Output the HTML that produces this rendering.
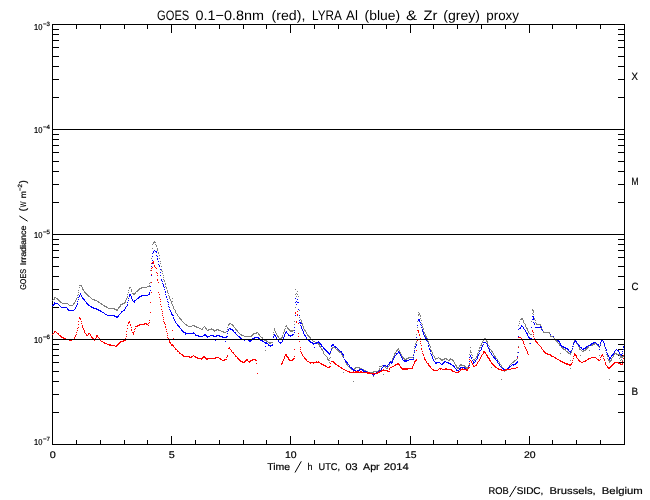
<!DOCTYPE html>
<html><head><meta charset="utf-8"><title>GOES / LYRA proxy</title>
<style>
html,body{margin:0;padding:0;background:#fff;}
body{width:650px;height:500px;position:relative;overflow:hidden;font-family:"Liberation Sans",sans-serif;color:#000;}
svg{position:absolute;left:0;top:0;will-change:transform;}
.t{position:absolute;white-space:nowrap;line-height:1;}
</style></head><body>
<svg width="650" height="500" viewBox="0 0 650 500" shape-rendering="crispEdges">
<path d="M52 24h573v1h-573zM52 444h573v1h-573zM52 24h1v421h-1zM624 24h1v421h-1zM52 97h7v1h-7zM618 97h7v1h-7zM52 79h7v1h-7zM618 79h7v1h-7zM52 66h7v1h-7zM618 66h7v1h-7zM52 56h7v1h-7zM618 56h7v1h-7zM52 47h7v1h-7zM618 47h7v1h-7zM52 40h7v1h-7zM618 40h7v1h-7zM52 34h7v1h-7zM618 34h7v1h-7zM52 29h7v1h-7zM618 29h7v1h-7zM52 202h7v1h-7zM618 202h7v1h-7zM52 184h7v1h-7zM618 184h7v1h-7zM52 171h7v1h-7zM618 171h7v1h-7zM52 161h7v1h-7zM618 161h7v1h-7zM52 152h7v1h-7zM618 152h7v1h-7zM52 145h7v1h-7zM618 145h7v1h-7zM52 139h7v1h-7zM618 139h7v1h-7zM52 134h7v1h-7zM618 134h7v1h-7zM52 307h7v1h-7zM618 307h7v1h-7zM52 289h7v1h-7zM618 289h7v1h-7zM52 276h7v1h-7zM618 276h7v1h-7zM52 266h7v1h-7zM618 266h7v1h-7zM52 257h7v1h-7zM618 257h7v1h-7zM52 250h7v1h-7zM618 250h7v1h-7zM52 244h7v1h-7zM618 244h7v1h-7zM52 239h7v1h-7zM618 239h7v1h-7zM52 412h7v1h-7zM618 412h7v1h-7zM52 394h7v1h-7zM618 394h7v1h-7zM52 381h7v1h-7zM618 381h7v1h-7zM52 371h7v1h-7zM618 371h7v1h-7zM52 362h7v1h-7zM618 362h7v1h-7zM52 355h7v1h-7zM618 355h7v1h-7zM52 349h7v1h-7zM618 349h7v1h-7zM52 344h7v1h-7zM618 344h7v1h-7zM52 24h1v9h-1zM52 436h1v9h-1zM76 24h1v5h-1zM76 440h1v5h-1zM100 24h1v5h-1zM100 440h1v5h-1zM124 24h1v5h-1zM124 440h1v5h-1zM147 24h1v5h-1zM147 440h1v5h-1zM171 24h1v9h-1zM171 436h1v9h-1zM195 24h1v5h-1zM195 440h1v5h-1zM219 24h1v5h-1zM219 440h1v5h-1zM243 24h1v5h-1zM243 440h1v5h-1zM266 24h1v5h-1zM266 440h1v5h-1zM290 24h1v9h-1zM290 436h1v9h-1zM314 24h1v5h-1zM314 440h1v5h-1zM338 24h1v5h-1zM338 440h1v5h-1zM362 24h1v5h-1zM362 440h1v5h-1zM386 24h1v5h-1zM386 440h1v5h-1zM410 24h1v9h-1zM410 436h1v9h-1zM433 24h1v5h-1zM433 440h1v5h-1zM457 24h1v5h-1zM457 440h1v5h-1zM481 24h1v5h-1zM481 440h1v5h-1zM505 24h1v5h-1zM505 440h1v5h-1zM529 24h1v9h-1zM529 436h1v9h-1zM552 24h1v5h-1zM552 440h1v5h-1zM576 24h1v5h-1zM576 440h1v5h-1zM600 24h1v5h-1zM600 440h1v5h-1zM624 24h1v5h-1zM624 440h1v5h-1z" fill="#000"/>
<path d="M154 241.5h1M153 242.5h3M153 243.5h1M152 244.5h1M155 244.5h1M156 245.5h1M156 246.5h1M152 248.5h1M157 248.5h1M157 249.5h1M157 250.5h1M158 252.5h1M152 253.5h1M158 253.5h1M159 255.5h1M151 258.5h1M159 258.5h1M160 261.5h1M151 263.5h1M160 263.5h1M161 266.5h1M161 269.5h1M150 270.5h1M161 270.5h1M162 271.5h1M162 273.5h1M163 275.5h1M163 277.5h1M163 279.5h1M164 280.5h1M164 281.5h1M150 282.5h1M149 283.5h1M165 283.5h1M165 284.5h1M79 285.5h3M149 285.5h1M81 286.5h1M147 286.5h3M165 286.5h1M79 287.5h1M82 287.5h1M129 287.5h2M141 287.5h6M166 287.5h1M82 288.5h1M129 288.5h1M139 288.5h3M166 288.5h1M82 289.5h2M131 289.5h1M138 289.5h2M295 289.5h1M78 290.5h1M83 290.5h1M128 290.5h1M131 290.5h1M137 290.5h2M167 290.5h1M84 291.5h1M131 291.5h1M136 291.5h2M167 291.5h1M297 291.5h1M78 292.5h1M84 292.5h2M128 292.5h1M135 292.5h1M167 292.5h1M85 293.5h2M132 293.5h4M168 293.5h1M296 293.5h1M78 294.5h1M86 294.5h2M127 294.5h1M133 294.5h2M295 294.5h1M297 294.5h1M77 295.5h1M87 295.5h2M168 295.5h1M88 296.5h2M127 296.5h1M169 296.5h1M296 296.5h1M298 296.5h1M54 297.5h2M77 297.5h1M90 297.5h1M127 297.5h1M169 297.5h1M54 298.5h1M56 298.5h2M76 298.5h1M91 298.5h1M126 298.5h1M169 298.5h1M172 298.5h1M53 299.5h2M57 299.5h2M76 299.5h1M92 299.5h3M126 299.5h1M170 299.5h1M52 300.5h1M58 300.5h2M75 300.5h1M94 300.5h3M125 300.5h1M170 300.5h1M59 301.5h2M75 301.5h1M97 301.5h2M125 301.5h1M171 301.5h2M60 302.5h2M74 302.5h1M98 302.5h2M124 302.5h2M171 302.5h1M62 303.5h6M73 303.5h2M100 303.5h2M122 303.5h3M171 303.5h1M68 304.5h1M73 304.5h1M101 304.5h2M120 304.5h3M172 304.5h1M69 305.5h4M103 305.5h2M120 305.5h1M172 305.5h1M104 306.5h3M119 306.5h2M173 306.5h1M106 307.5h2M118 307.5h2M173 307.5h1M295 307.5h1M108 308.5h7M118 308.5h1M173 308.5h1M114 309.5h4M174 309.5h1M532 309.5h1M116 310.5h2M175 310.5h1M299 310.5h1M532 310.5h2M175 311.5h1M533 311.5h1M175 312.5h1M418 312.5h1M533 312.5h1M176 313.5h1M419 313.5h1M532 313.5h1M177 314.5h1M418 314.5h2M533 314.5h1M177 315.5h1M418 315.5h1M420 315.5h1M178 316.5h1M420 316.5h1M533 316.5h1M179 317.5h1M299 317.5h1M179 318.5h2M420 318.5h1M521 318.5h2M534 318.5h1M180 319.5h2M300 319.5h1M520 319.5h3M534 319.5h1M181 320.5h1M301 320.5h1M421 320.5h1M523 320.5h1M535 320.5h1M182 321.5h1M294 321.5h1M301 321.5h1M417 321.5h1M519 321.5h1M523 321.5h1M531 321.5h1M183 322.5h1M301 322.5h1M523 322.5h1M535 322.5h1M184 323.5h1M229 323.5h2M301 323.5h2M421 323.5h1M519 323.5h1M524 323.5h1M536 323.5h1M185 324.5h2M228 324.5h2M231 324.5h2M294 324.5h1M302 324.5h1M422 324.5h1M525 324.5h1M536 324.5h5M186 325.5h2M192 325.5h3M228 325.5h1M232 325.5h2M286 325.5h1M302 325.5h1M518 325.5h1M525 325.5h1M540 325.5h1M188 326.5h4M194 326.5h3M204 326.5h1M233 326.5h1M285 326.5h2M303 326.5h1M422 326.5h1M525 326.5h1M541 326.5h1M196 327.5h3M203 327.5h1M205 327.5h1M227 327.5h1M234 327.5h1M287 327.5h1M294 327.5h1M303 327.5h1M417 327.5h1M422 327.5h1M526 327.5h1M541 327.5h1M199 328.5h2M202 328.5h1M205 328.5h2M211 328.5h1M235 328.5h1M274 328.5h1M285 328.5h1M287 328.5h2M303 328.5h1M423 328.5h1M526 328.5h2M541 328.5h1M201 329.5h2M206 329.5h1M208 329.5h6M216 329.5h3M227 329.5h1M235 329.5h2M274 329.5h1M284 329.5h1M288 329.5h2M304 329.5h1M423 329.5h1M527 329.5h1M542 329.5h1M207 330.5h2M213 330.5h4M218 330.5h3M236 330.5h2M274 330.5h1M284 330.5h1M289 330.5h5M304 330.5h2M527 330.5h1M214 331.5h1M221 331.5h3M226 331.5h2M237 331.5h1M275 331.5h1M284 331.5h1M290 331.5h3M305 331.5h1M423 331.5h1M528 331.5h1M543 331.5h1M223 332.5h3M238 332.5h1M256 332.5h2M273 332.5h1M275 332.5h1M283 332.5h1M306 332.5h1M424 332.5h1M528 332.5h1M543 332.5h7M239 333.5h1M253 333.5h4M258 333.5h1M276 333.5h1M283 333.5h1M306 333.5h1M424 333.5h1M529 333.5h1M549 333.5h1M240 334.5h2M252 334.5h2M258 334.5h2M273 334.5h1M276 334.5h1M307 334.5h1M416 334.5h1M425 334.5h1M530 334.5h2M241 335.5h3M251 335.5h2M259 335.5h1M277 335.5h1M282 335.5h1M307 335.5h2M425 335.5h1M550 335.5h1M244 336.5h8M260 336.5h1M277 336.5h2M282 336.5h1M308 336.5h2M425 336.5h2M518 336.5h1M550 336.5h3M261 337.5h2M278 337.5h1M281 337.5h2M309 337.5h2M426 337.5h1M553 337.5h1M262 338.5h1M279 338.5h3M310 338.5h1M427 338.5h1M484 338.5h2M554 338.5h1M263 339.5h2M280 339.5h1M311 339.5h1M427 339.5h1M483 339.5h1M485 339.5h1M554 339.5h1M575 339.5h1M264 340.5h3M312 340.5h1M427 340.5h1M483 340.5h1M486 340.5h1M555 340.5h2M574 340.5h2M601 340.5h2M266 341.5h2M313 341.5h2M416 341.5h1M428 341.5h1M482 341.5h1M486 341.5h2M556 341.5h2M574 341.5h1M576 341.5h1M601 341.5h1M603 341.5h1M268 342.5h5M315 342.5h3M416 342.5h1M428 342.5h1M482 342.5h1M487 342.5h1M557 342.5h1M573 342.5h1M576 342.5h1M600 342.5h1M603 342.5h1M269 343.5h2M317 343.5h2M415 343.5h1M481 343.5h1M487 343.5h1M529 343.5h1M558 343.5h2M576 343.5h2M594 343.5h3M604 343.5h1M318 344.5h2M415 344.5h1M429 344.5h1M481 344.5h1M559 344.5h1M573 344.5h1M577 344.5h1M592 344.5h3M596 344.5h2M600 344.5h1M604 344.5h1M319 345.5h1M429 345.5h1M480 345.5h2M488 345.5h1M559 345.5h2M578 345.5h1M589 345.5h4M597 345.5h2M600 345.5h1M319 346.5h2M414 346.5h1M430 346.5h1M489 346.5h1M518 346.5h1M561 346.5h1M573 346.5h1M578 346.5h1M588 346.5h1M598 346.5h2M604 346.5h1M320 347.5h1M332 347.5h4M430 347.5h1M470 347.5h1M479 347.5h2M561 347.5h2M579 347.5h1M587 347.5h2M599 347.5h1M321 348.5h1M331 348.5h2M335 348.5h1M398 348.5h1M414 348.5h1M479 348.5h1M489 348.5h1M562 348.5h2M572 348.5h1M579 348.5h1M586 348.5h2M605 348.5h1M321 349.5h2M331 349.5h1M336 349.5h2M397 349.5h2M430 349.5h1M490 349.5h1M563 349.5h3M572 349.5h1M579 349.5h2M585 349.5h2M265 350.5h1M322 350.5h1M331 350.5h1M337 350.5h2M396 350.5h2M399 350.5h1M431 350.5h1M470 350.5h1M478 350.5h2M491 350.5h1M565 350.5h1M581 350.5h1M583 350.5h3M589 350.5h1M605 350.5h1M323 351.5h1M338 351.5h2M396 351.5h1M399 351.5h1M414 351.5h1M431 351.5h1M470 351.5h1M491 351.5h2M566 351.5h2M571 351.5h1M582 351.5h2M323 352.5h1M339 352.5h2M395 352.5h1M399 352.5h2M432 352.5h1M470 352.5h2M478 352.5h1M492 352.5h1M517 352.5h1M567 352.5h2M571 352.5h1M606 352.5h1M323 353.5h1M330 353.5h1M341 353.5h1M394 353.5h2M400 353.5h1M432 353.5h1M477 353.5h1M493 353.5h1M560 353.5h1M568 353.5h3M614 353.5h3M324 354.5h1M341 354.5h1M394 354.5h1M401 354.5h1M413 354.5h1M432 354.5h1M469 354.5h1M471 354.5h1M477 354.5h1M493 354.5h1M570 354.5h1M606 354.5h1M613 354.5h2M616 354.5h4M325 355.5h1M342 355.5h1M394 355.5h1M401 355.5h1M433 355.5h1M472 355.5h1M477 355.5h1M494 355.5h1M580 355.5h1M599 355.5h1M607 355.5h1M613 355.5h1M619 355.5h2M326 356.5h1M342 356.5h2M393 356.5h1M402 356.5h1M434 356.5h1M476 356.5h1M494 356.5h2M607 356.5h1M613 356.5h1M620 356.5h4M327 357.5h1M330 357.5h1M343 357.5h1M393 357.5h1M402 357.5h2M408 357.5h5M434 357.5h1M438 357.5h1M472 357.5h1M476 357.5h1M495 357.5h1M517 357.5h1M612 357.5h1M620 357.5h3M327 358.5h1M329 358.5h1M392 358.5h1M403 358.5h2M406 358.5h3M413 358.5h1M435 358.5h3M439 358.5h2M444 358.5h3M450 358.5h1M475 358.5h1M496 358.5h1M517 358.5h1M607 358.5h1M611 358.5h1M619 358.5h1M623 358.5h1M327 359.5h2M344 359.5h1M392 359.5h1M404 359.5h3M435 359.5h1M440 359.5h5M446 359.5h2M449 359.5h4M469 359.5h1M473 359.5h2M497 359.5h1M516 359.5h1M608 359.5h1M611 359.5h1M621 359.5h1M328 360.5h2M345 360.5h1M392 360.5h1M441 360.5h2M448 360.5h2M452 360.5h2M474 360.5h1M497 360.5h1M514 360.5h2M570 360.5h1M608 360.5h4M620 360.5h1M622 360.5h1M345 361.5h1M390 361.5h2M453 361.5h1M498 361.5h1M513 361.5h2M609 361.5h2M622 361.5h1M329 362.5h1M345 362.5h1M454 362.5h1M499 362.5h1M512 362.5h2M609 362.5h1M346 363.5h1M389 363.5h1M454 363.5h1M499 363.5h1M511 363.5h1M346 364.5h2M389 364.5h1M455 364.5h1M460 364.5h2M469 364.5h1M500 364.5h1M510 364.5h1M347 365.5h1M382 365.5h3M389 365.5h1M455 365.5h2M459 365.5h6M468 365.5h1M501 365.5h1M509 365.5h1M348 366.5h1M379 366.5h3M384 366.5h2M388 366.5h1M456 366.5h1M459 366.5h1M464 366.5h2M468 366.5h1M501 366.5h1M509 366.5h1M349 367.5h1M355 367.5h5M385 367.5h1M387 367.5h1M456 367.5h3M465 367.5h3M491 367.5h1M502 367.5h1M508 367.5h1M350 368.5h1M354 368.5h2M359 368.5h3M379 368.5h1M386 368.5h2M457 368.5h2M466 368.5h2M503 368.5h1M507 368.5h1M570 368.5h1M351 369.5h4M361 369.5h3M379 369.5h1M503 369.5h1M507 369.5h1M363 370.5h3M378 370.5h1M503 370.5h4M365 371.5h3M373 371.5h6M504 371.5h1M343 372.5h1M367 372.5h7M371 373.5h1M383 374.5h1M373 376.5h1M501 379.5h1M609 379.5h1M353 381.5h1" stroke="#7f7f7f" stroke-width="1" fill="none"/>
<path d="M154 250.5h1M153 251.5h1M155 251.5h2M153 252.5h1M156 252.5h1M152 253.5h1M156 255.5h1M152 256.5h1M157 256.5h1M157 258.5h1M157 259.5h1M152 260.5h1M158 261.5h1M152 263.5h1M158 264.5h1M159 265.5h1M151 266.5h1M159 266.5h1M160 269.5h1M160 272.5h1M151 275.5h1M160 275.5h1M161 279.5h1M161 280.5h1M162 281.5h1M151 282.5h1M162 283.5h1M163 284.5h1M163 285.5h1M150 286.5h1M163 286.5h1M164 287.5h1M164 289.5h1M150 290.5h1M165 291.5h1M149 292.5h1M165 292.5h1M80 293.5h1M149 293.5h1M80 294.5h1M129 294.5h2M148 294.5h2M165 294.5h1M79 295.5h1M81 295.5h1M129 295.5h2M141 295.5h7M79 296.5h1M81 296.5h1M129 296.5h1M131 296.5h1M139 296.5h3M166 296.5h1M78 297.5h1M82 297.5h1M131 297.5h1M138 297.5h2M166 297.5h1M82 298.5h2M128 298.5h1M131 298.5h1M137 298.5h2M295 298.5h1M78 299.5h1M83 299.5h2M132 299.5h1M136 299.5h1M167 299.5h1M297 299.5h1M84 300.5h1M128 300.5h1M132 300.5h1M134 300.5h2M77 301.5h1M85 301.5h1M133 301.5h2M167 301.5h1M296 301.5h1M54 302.5h1M86 302.5h1M127 302.5h1M134 302.5h1M168 302.5h1M295 302.5h1M297 302.5h2M54 303.5h4M77 303.5h1M86 303.5h2M53 304.5h2M58 304.5h1M77 304.5h1M87 304.5h2M127 304.5h1M168 304.5h1M296 304.5h1M52 305.5h2M59 305.5h1M76 305.5h1M88 305.5h2M127 305.5h1M60 306.5h1M76 306.5h1M90 306.5h2M126 306.5h1M168 306.5h1M61 307.5h6M75 307.5h1M91 307.5h3M125 307.5h1M169 307.5h1M67 308.5h1M75 308.5h1M93 308.5h4M125 308.5h1M67 309.5h2M74 309.5h1M96 309.5h3M124 309.5h1M169 309.5h1M298 309.5h1M68 310.5h6M98 310.5h3M123 310.5h2M170 310.5h1M100 311.5h2M121 311.5h2M170 311.5h1M102 312.5h2M121 312.5h1M171 312.5h1M104 313.5h1M120 313.5h1M171 313.5h1M105 314.5h2M119 314.5h1M171 314.5h2M107 315.5h8M118 315.5h1M172 315.5h2M295 315.5h1M299 315.5h1M114 316.5h5M532 316.5h2M116 317.5h2M173 317.5h1M533 317.5h1M173 318.5h1M533 318.5h1M174 319.5h1M418 319.5h2M532 319.5h2M174 320.5h1M299 320.5h1M418 320.5h2M175 321.5h1M419 321.5h1M175 322.5h1M299 322.5h2M420 322.5h1M533 322.5h1M176 323.5h1M300 323.5h2M534 323.5h1M177 324.5h1M420 324.5h1M534 324.5h1M177 325.5h2M300 325.5h1M417 325.5h1M421 325.5h1M521 325.5h1M178 326.5h2M301 326.5h1M521 326.5h2M540 326.5h1M179 327.5h1M294 327.5h1M301 327.5h1M421 327.5h1M520 327.5h1M523 327.5h1M531 327.5h1M535 327.5h7M180 328.5h1M229 328.5h2M301 328.5h1M519 328.5h2M523 328.5h1M181 329.5h1M228 329.5h1M230 329.5h3M302 329.5h1M422 329.5h1M518 329.5h1M524 329.5h1M541 329.5h1M181 330.5h2M228 330.5h1M232 330.5h2M294 330.5h1M302 330.5h1M417 330.5h1M422 330.5h1M525 330.5h1M542 330.5h1M182 331.5h2M227 331.5h1M233 331.5h1M286 331.5h1M303 331.5h1M422 331.5h1M525 331.5h1M183 332.5h3M193 332.5h1M234 332.5h2M285 332.5h2M294 332.5h1M303 332.5h1M423 332.5h1M526 332.5h1M185 333.5h10M227 333.5h1M235 333.5h1M285 333.5h1M287 333.5h1M303 333.5h1M423 333.5h1M526 333.5h2M185 334.5h1M195 334.5h1M204 334.5h2M236 334.5h1M274 334.5h1M284 334.5h1M288 334.5h1M292 334.5h2M304 334.5h1M423 334.5h1M527 334.5h1M550 334.5h1M195 335.5h4M203 335.5h4M210 335.5h4M216 335.5h4M237 335.5h1M274 335.5h2M284 335.5h1M288 335.5h5M304 335.5h2M424 335.5h1M527 335.5h1M198 336.5h5M206 336.5h4M213 336.5h4M219 336.5h4M226 336.5h2M238 336.5h2M273 336.5h1M275 336.5h1M284 336.5h1M290 336.5h1M305 336.5h1M424 336.5h1M518 336.5h1M528 336.5h1M553 336.5h1M207 337.5h1M222 337.5h5M239 337.5h2M254 337.5h5M273 337.5h1M276 337.5h1M283 337.5h1M306 337.5h1M416 337.5h1M425 337.5h1M528 337.5h2M240 338.5h2M252 338.5h3M258 338.5h2M276 338.5h1M283 338.5h1M306 338.5h1M425 338.5h2M529 338.5h3M241 339.5h7M251 339.5h2M259 339.5h2M277 339.5h1M307 339.5h2M426 339.5h1M557 339.5h1M602 339.5h1M215 340.5h1M244 340.5h1M248 340.5h4M260 340.5h3M278 340.5h1M282 340.5h1M308 340.5h2M426 340.5h1M557 340.5h2M575 340.5h1M601 340.5h2M225 341.5h1M249 341.5h2M262 341.5h2M278 341.5h1M282 341.5h1M309 341.5h2M318 341.5h1M427 341.5h1M558 341.5h2M574 341.5h3M601 341.5h1M603 341.5h1M264 342.5h3M279 342.5h3M310 342.5h3M316 342.5h4M483 342.5h3M559 342.5h1M574 342.5h1M576 342.5h1M593 342.5h3M600 342.5h1M603 342.5h1M265 343.5h3M280 343.5h1M312 343.5h5M319 343.5h2M428 343.5h1M486 343.5h1M530 343.5h1M560 343.5h1M573 343.5h1M577 343.5h1M591 343.5h3M596 343.5h1M600 343.5h1M604 343.5h1M268 344.5h1M272 344.5h1M313 344.5h1M320 344.5h2M332 344.5h2M416 344.5h1M483 344.5h1M487 344.5h1M560 344.5h1M573 344.5h1M578 344.5h1M590 344.5h2M597 344.5h2M604 344.5h1M268 345.5h5M321 345.5h1M331 345.5h3M416 345.5h1M428 345.5h1M482 345.5h1M487 345.5h1M560 345.5h2M578 345.5h2M588 345.5h3M598 345.5h1M600 345.5h1M604 345.5h1M265 346.5h1M270 346.5h1M321 346.5h2M331 346.5h1M334 346.5h2M415 346.5h1M428 346.5h1M482 346.5h1M487 346.5h1M561 346.5h3M572 346.5h1M579 346.5h1M586 346.5h2M599 346.5h1M623 346.5h1M314 347.5h1M323 347.5h1M335 347.5h2M415 347.5h1M481 347.5h1M488 347.5h1M563 347.5h3M580 347.5h2M585 347.5h2M605 347.5h1M623 347.5h1M323 348.5h2M337 348.5h1M429 348.5h1M481 348.5h1M488 348.5h1M565 348.5h3M572 348.5h1M581 348.5h1M583 348.5h3M605 348.5h1M324 349.5h2M331 349.5h1M338 349.5h1M429 349.5h1M481 349.5h1M489 349.5h1M567 349.5h2M582 349.5h2M599 349.5h1M606 349.5h1M616 349.5h1M623 349.5h1M325 350.5h2M339 350.5h1M414 350.5h1M430 350.5h1M480 350.5h1M489 350.5h1M568 350.5h1M571 350.5h1M606 350.5h1M615 350.5h1M617 350.5h2M326 351.5h2M330 351.5h1M340 351.5h2M398 351.5h1M430 351.5h1M479 351.5h1M489 351.5h1M569 351.5h2M614 351.5h1M618 351.5h1M622 351.5h1M327 352.5h2M330 352.5h1M341 352.5h1M398 352.5h2M414 352.5h1M490 352.5h1M518 352.5h1M570 352.5h1M606 352.5h1M614 352.5h1M619 352.5h1M328 353.5h2M342 353.5h1M396 353.5h2M399 353.5h1M430 353.5h1M479 353.5h1M491 353.5h1M607 353.5h1M613 353.5h1M619 353.5h1M622 353.5h1M329 354.5h1M342 354.5h2M396 354.5h1M400 354.5h1M431 354.5h1M478 354.5h1M491 354.5h1M607 354.5h1M612 354.5h2M620 354.5h2M343 355.5h1M395 355.5h1M400 355.5h1M413 355.5h1M431 355.5h1M470 355.5h1M478 355.5h1M492 355.5h1M608 355.5h1M611 355.5h2M621 355.5h1M394 356.5h1M401 356.5h1M432 356.5h1M470 356.5h1M477 356.5h1M493 356.5h1M517 356.5h1M608 356.5h1M611 356.5h1M343 357.5h1M394 357.5h1M401 357.5h1M413 357.5h1M432 357.5h1M469 357.5h1M471 357.5h1M477 357.5h1M493 357.5h2M609 357.5h2M393 358.5h1M402 358.5h1M432 358.5h1M471 358.5h1M477 358.5h1M494 358.5h2M609 358.5h2M344 359.5h1M393 359.5h1M402 359.5h1M409 359.5h5M433 359.5h1M476 359.5h1M495 359.5h1M609 359.5h1M345 360.5h1M392 360.5h1M403 360.5h6M433 360.5h1M472 360.5h1M475 360.5h1M496 360.5h2M345 361.5h2M390 361.5h1M392 361.5h1M404 361.5h3M434 361.5h1M444 361.5h2M469 361.5h1M473 361.5h1M475 361.5h1M497 361.5h1M517 361.5h1M346 362.5h2M389 362.5h4M435 362.5h5M443 362.5h2M446 362.5h3M473 362.5h2M497 362.5h1M516 362.5h2M347 363.5h1M389 363.5h1M391 363.5h1M435 363.5h2M440 363.5h1M442 363.5h2M448 363.5h3M473 363.5h1M498 363.5h1M515 363.5h2M348 364.5h1M388 364.5h1M441 364.5h2M450 364.5h2M499 364.5h1M512 364.5h4M349 365.5h1M383 365.5h3M387 365.5h1M452 365.5h2M469 365.5h1M499 365.5h1M511 365.5h1M513 365.5h1M349 366.5h1M383 366.5h1M386 366.5h2M453 366.5h2M468 366.5h1M500 366.5h1M509 366.5h2M350 367.5h2M382 367.5h1M454 367.5h1M460 367.5h5M468 367.5h1M501 367.5h1M508 367.5h2M351 368.5h2M381 368.5h1M455 368.5h1M459 368.5h2M464 368.5h2M502 368.5h2M507 368.5h2M352 369.5h2M359 369.5h4M381 369.5h1M456 369.5h1M459 369.5h1M466 369.5h2M503 369.5h4M353 370.5h3M357 370.5h3M362 370.5h2M379 370.5h2M456 370.5h3M467 370.5h1M355 371.5h3M363 371.5h4M378 371.5h1M367 372.5h3M376 372.5h2M370 373.5h2M374 373.5h2M372 374.5h3M373 375.5h1" stroke="#0000ff" stroke-width="1" fill="none"/>
<path d="M153 261.5h1M152 262.5h2M151 263.5h1M153 263.5h1M154 265.5h1M154 266.5h1M152 267.5h1M155 267.5h1M151 268.5h1M156 268.5h1M151 270.5h1M156 272.5h1M157 273.5h1M151 274.5h1M157 275.5h1M157 279.5h1M157 280.5h1M151 282.5h1M158 282.5h1M151 292.5h1M158 292.5h1M159 294.5h1M159 297.5h1M160 299.5h1M160 301.5h1M150 302.5h1M160 304.5h1M161 306.5h1M161 309.5h1M162 311.5h1M297 311.5h1M150 312.5h1M295 312.5h1M162 313.5h1M295 313.5h1M297 314.5h1M162 315.5h1M297 315.5h1M79 317.5h1M163 317.5h1M79 318.5h2M80 319.5h1M163 319.5h1M149 320.5h1M78 321.5h1M81 321.5h1M129 321.5h1M163 321.5h1M296 321.5h1M128 322.5h2M149 322.5h1M164 322.5h1M296 322.5h1M81 323.5h1M128 323.5h1M144 323.5h3M148 323.5h1M164 323.5h1M298 323.5h1M78 324.5h1M130 324.5h1M139 324.5h6M146 324.5h2M165 324.5h1M82 325.5h1M127 325.5h1M130 325.5h1M137 325.5h3M148 325.5h1M82 326.5h1M135 326.5h3M165 326.5h1M78 327.5h1M82 327.5h1M131 327.5h1M165 327.5h1M77 328.5h1M83 328.5h1M127 328.5h1M135 328.5h1M83 329.5h1M131 329.5h1M134 329.5h1M166 329.5h1M77 330.5h1M84 330.5h1M131 330.5h1M172 330.5h1M417 330.5h2M532 330.5h1M54 331.5h2M84 331.5h1M126 331.5h1M134 331.5h1M166 331.5h1M418 331.5h1M532 331.5h1M54 332.5h1M56 332.5h1M76 332.5h1M84 332.5h1M132 332.5h2M418 332.5h1M533 332.5h1M53 333.5h1M57 333.5h2M85 333.5h1M88 333.5h2M133 333.5h1M167 333.5h1M298 333.5h1M52 334.5h1M58 334.5h1M76 334.5h1M86 334.5h1M88 334.5h1M90 334.5h1M126 334.5h1M133 334.5h1M419 334.5h1M533 334.5h1M59 335.5h2M75 335.5h1M86 335.5h2M90 335.5h1M96 335.5h2M167 335.5h1M419 335.5h1M60 336.5h2M75 336.5h1M91 336.5h1M96 336.5h2M126 336.5h1M298 336.5h1M533 336.5h1M61 337.5h3M74 337.5h1M91 337.5h2M96 337.5h1M98 337.5h1M167 337.5h1M518 337.5h3M63 338.5h3M74 338.5h1M92 338.5h2M95 338.5h1M99 338.5h1M125 338.5h1M168 338.5h1M173 338.5h1M420 338.5h1M521 338.5h1M534 338.5h1M66 339.5h3M72 339.5h2M94 339.5h2M100 339.5h1M168 339.5h1M299 339.5h1M522 339.5h1M534 339.5h1M69 340.5h3M94 340.5h1M100 340.5h1M123 340.5h3M169 340.5h1M417 340.5h1M522 340.5h1M535 340.5h1M101 341.5h2M120 341.5h4M169 341.5h1M299 341.5h1M420 341.5h1M523 341.5h1M535 341.5h2M103 342.5h2M119 342.5h2M169 342.5h2M523 342.5h1M536 342.5h2M104 343.5h3M118 343.5h2M170 343.5h1M420 343.5h1M523 343.5h1M537 343.5h1M107 344.5h4M117 344.5h2M171 344.5h2M524 344.5h1M538 344.5h1M109 345.5h6M116 345.5h2M171 345.5h3M421 345.5h1M539 345.5h1M115 346.5h2M173 346.5h1M524 346.5h1M540 346.5h1M174 347.5h1M229 347.5h1M300 347.5h1M518 347.5h1M525 347.5h1M541 347.5h1M175 348.5h1M228 348.5h2M421 348.5h1M525 348.5h1M541 348.5h1M175 349.5h2M230 349.5h1M294 349.5h1M300 349.5h1M421 349.5h1M526 349.5h1M542 349.5h1M177 350.5h1M231 350.5h1M416 350.5h1M526 350.5h1M543 350.5h1M177 351.5h2M231 351.5h1M300 351.5h1M422 351.5h1M483 351.5h2M527 351.5h1M543 351.5h2M179 352.5h1M232 352.5h2M301 352.5h1M483 352.5h3M527 352.5h1M544 352.5h2M179 353.5h2M233 353.5h1M301 353.5h1M422 353.5h1M483 353.5h1M485 353.5h1M527 353.5h1M545 353.5h3M574 353.5h1M181 354.5h2M234 354.5h1M285 354.5h2M302 354.5h1M423 354.5h1M482 354.5h1M486 354.5h1M528 354.5h1M547 354.5h4M574 354.5h2M602 354.5h1M182 355.5h2M193 355.5h1M227 355.5h1M235 355.5h1M285 355.5h2M302 355.5h1M423 355.5h1M481 355.5h1M486 355.5h2M550 355.5h2M574 355.5h3M601 355.5h2M623 355.5h1M183 356.5h7M191 356.5h2M194 356.5h2M203 356.5h2M227 356.5h1M235 356.5h2M284 356.5h1M286 356.5h2M294 356.5h1M303 356.5h1M481 356.5h1M487 356.5h1M551 356.5h3M573 356.5h1M576 356.5h1M601 356.5h1M603 356.5h1M189 357.5h3M195 357.5h3M202 357.5h4M215 357.5h4M226 357.5h1M237 357.5h1M284 357.5h1M287 357.5h2M304 357.5h1M424 357.5h1M480 357.5h1M487 357.5h2M517 357.5h1M554 357.5h2M576 357.5h1M591 357.5h5M600 357.5h1M197 358.5h6M205 358.5h11M219 358.5h2M237 358.5h2M284 358.5h1M288 358.5h1M293 358.5h2M304 358.5h2M424 358.5h1M480 358.5h1M488 358.5h2M555 358.5h2M573 358.5h1M577 358.5h1M588 358.5h3M596 358.5h1M603 358.5h1M623 358.5h1M201 359.5h1M206 359.5h2M220 359.5h2M224 359.5h3M238 359.5h2M246 359.5h2M252 359.5h4M283 359.5h1M288 359.5h2M292 359.5h2M305 359.5h2M416 359.5h1M424 359.5h2M469 359.5h1M479 359.5h1M489 359.5h1M557 359.5h2M578 359.5h1M587 359.5h2M597 359.5h2M600 359.5h1M604 359.5h1M222 360.5h3M239 360.5h2M245 360.5h3M250 360.5h3M255 360.5h2M283 360.5h1M289 360.5h4M306 360.5h1M415 360.5h2M425 360.5h1M470 360.5h1M479 360.5h1M489 360.5h2M559 360.5h2M572 360.5h1M578 360.5h2M585 360.5h2M598 360.5h2M604 360.5h1M240 361.5h3M244 361.5h2M248 361.5h3M282 361.5h1M307 361.5h2M316 361.5h1M318 361.5h1M331 361.5h3M414 361.5h2M426 361.5h1M471 361.5h1M478 361.5h1M490 361.5h1M560 361.5h3M579 361.5h2M583 361.5h3M622 361.5h1M242 362.5h3M249 362.5h1M282 362.5h1M309 362.5h11M333 362.5h2M414 362.5h1M426 362.5h1M471 362.5h1M477 362.5h1M491 362.5h1M562 362.5h3M572 362.5h1M581 362.5h2M605 362.5h1M614 362.5h5M256 363.5h1M281 363.5h2M310 363.5h1M313 363.5h1M320 363.5h2M330 363.5h1M334 363.5h2M397 363.5h2M414 363.5h1M427 363.5h2M469 363.5h1M472 363.5h1M477 363.5h1M491 363.5h2M564 363.5h4M571 363.5h1M605 363.5h1M613 363.5h2M618 363.5h3M622 363.5h1M281 364.5h1M321 364.5h3M335 364.5h2M395 364.5h5M413 364.5h1M428 364.5h1M472 364.5h1M476 364.5h1M492 364.5h2M566 364.5h6M605 364.5h1M612 364.5h2M620 364.5h3M323 365.5h3M337 365.5h2M394 365.5h2M399 365.5h1M413 365.5h1M428 365.5h2M473 365.5h1M475 365.5h2M493 365.5h2M569 365.5h2M606 365.5h1M611 365.5h2M325 366.5h2M329 366.5h2M338 366.5h2M392 366.5h2M400 366.5h1M412 366.5h1M429 366.5h2M473 366.5h2M494 366.5h2M607 366.5h1M610 366.5h2M327 367.5h3M340 367.5h2M390 367.5h2M400 367.5h2M412 367.5h1M430 367.5h1M468 367.5h2M495 367.5h2M516 367.5h2M607 367.5h4M341 368.5h2M389 368.5h1M401 368.5h12M431 368.5h1M439 368.5h3M445 368.5h2M462 368.5h1M468 368.5h1M497 368.5h2M511 368.5h5M608 368.5h2M343 369.5h2M383 369.5h1M389 369.5h1M402 369.5h6M432 369.5h2M438 369.5h1M440 369.5h1M442 369.5h10M460 369.5h8M498 369.5h4M505 369.5h6M345 370.5h2M381 370.5h7M433 370.5h5M451 370.5h2M460 370.5h1M466 370.5h2M501 370.5h5M347 371.5h3M353 371.5h1M355 371.5h4M360 371.5h2M379 371.5h3M387 371.5h3M452 371.5h3M458 371.5h2M349 372.5h21M377 372.5h3M455 372.5h4M257 373.5h1M367 373.5h11M373 374.5h1" stroke="#ff0000" stroke-width="1" fill="none"/>
<path d="M52 129h573v1h-573zM52 234h573v1h-573zM52 339h573v1h-573z" fill="#000"/>
<g font-family="Liberation Sans, sans-serif" fill="#000" stroke="#000" stroke-width="0.2" text-rendering="geometricPrecision"><text x="157.1" y="20.0" font-size="13.7" text-anchor="start" textLength="32.2" lengthAdjust="spacingAndGlyphs" stroke="none">GOES</text>
<text x="195.5" y="20.0" font-size="13.7" text-anchor="start" textLength="68.5" lengthAdjust="spacingAndGlyphs" stroke="none">0.1&#8722;0.8nm</text>
<text x="271.5" y="20.0" font-size="13.7" text-anchor="start" textLength="33.9" lengthAdjust="spacingAndGlyphs" stroke="none">(red),</text>
<text x="312.0" y="20.0" font-size="13.7" text-anchor="start" textLength="29.8" lengthAdjust="spacingAndGlyphs" stroke="none">LYRA</text>
<text x="346.1" y="20.0" font-size="13.7" text-anchor="start" textLength="11.8" lengthAdjust="spacingAndGlyphs" stroke="none">Al</text>
<text x="364.5" y="20.0" font-size="13.7" text-anchor="start" textLength="35.6" lengthAdjust="spacingAndGlyphs" stroke="none">(blue)</text>
<text x="406.0" y="20.0" font-size="13.7" text-anchor="start" textLength="11.0" lengthAdjust="spacingAndGlyphs" stroke="none">&amp;</text>
<text x="423.6" y="20.0" font-size="13.7" text-anchor="start" textLength="13.9" lengthAdjust="spacingAndGlyphs" stroke="none">Zr</text>
<text x="443.2" y="20.0" font-size="13.7" text-anchor="start" textLength="36.9" lengthAdjust="spacingAndGlyphs" stroke="none">(grey)</text>
<text x="486.3" y="20.0" font-size="13.7" text-anchor="start" textLength="32.7" lengthAdjust="spacingAndGlyphs" stroke="none">proxy</text>
<text x="52.8" y="457.9" font-size="9.7" text-anchor="middle" textLength="6" lengthAdjust="spacingAndGlyphs">0</text>
<text x="171.8" y="457.9" font-size="9.7" text-anchor="middle" textLength="6" lengthAdjust="spacingAndGlyphs">5</text>
<text x="290.8" y="457.9" font-size="9.7" text-anchor="middle" textLength="11.6" lengthAdjust="spacingAndGlyphs">10</text>
<text x="410.8" y="457.9" font-size="9.7" text-anchor="middle" textLength="11.6" lengthAdjust="spacingAndGlyphs">15</text>
<text x="529.8" y="457.9" font-size="9.7" text-anchor="middle" textLength="11.6" lengthAdjust="spacingAndGlyphs">20</text>
<text x="267.2" y="470.1" font-size="9.8" text-anchor="start" textLength="23.0" lengthAdjust="spacingAndGlyphs">Time</text>
<text x="307.4" y="470.1" font-size="9.8" text-anchor="start" textLength="5.0" lengthAdjust="spacingAndGlyphs">h</text>
<text x="318.5" y="470.1" font-size="9.8" text-anchor="start" textLength="21.5" lengthAdjust="spacingAndGlyphs">UTC,</text>
<text x="345.4" y="470.1" font-size="9.8" text-anchor="start" textLength="12.2" lengthAdjust="spacingAndGlyphs">03</text>
<text x="363.0" y="470.1" font-size="9.8" text-anchor="start" textLength="16.7" lengthAdjust="spacingAndGlyphs">Apr</text>
<text x="383.8" y="470.1" font-size="9.8" text-anchor="start" textLength="25.0" lengthAdjust="spacingAndGlyphs">2014</text>
<line x1="295" y1="472.5" x2="301.3" y2="461.3" stroke="#000" stroke-width="1" shape-rendering="auto"/>
<text x="488.6" y="494.1" font-size="9.8" text-anchor="start" textLength="20.2" lengthAdjust="spacingAndGlyphs">ROB</text>
<text x="516.7" y="494.1" font-size="9.8" text-anchor="start" textLength="26.7" lengthAdjust="spacingAndGlyphs">SIDC,</text>
<text x="549.6" y="494.1" font-size="9.8" text-anchor="start" textLength="46.1" lengthAdjust="spacingAndGlyphs">Brussels,</text>
<text x="601.8" y="494.1" font-size="9.8" text-anchor="start" textLength="41.0" lengthAdjust="spacingAndGlyphs">Belgium</text>
<line x1="509.5" y1="497" x2="516.2" y2="486" stroke="#000" stroke-width="1" shape-rendering="auto"/>
<text x="631.6" y="79.8" font-size="10.5" text-anchor="start" textLength="6.4" lengthAdjust="spacingAndGlyphs">X</text>
<text x="631.6" y="184.8" font-size="10.5" text-anchor="start" textLength="7" lengthAdjust="spacingAndGlyphs">M</text>
<text x="631.6" y="289.8" font-size="10.5" text-anchor="start" textLength="7" lengthAdjust="spacingAndGlyphs">C</text>
<text x="631.6" y="394.8" font-size="10.5" text-anchor="start" textLength="6.6" lengthAdjust="spacingAndGlyphs">B</text>
<text x="34" y="30.0" font-size="8.6" textLength="8.4" lengthAdjust="spacingAndGlyphs">10</text>
<text x="43" y="26.0" font-size="6.2" textLength="7" lengthAdjust="spacingAndGlyphs">&#8722;3</text>
<text x="34" y="132.9" font-size="8.6" textLength="8.4" lengthAdjust="spacingAndGlyphs">10</text>
<text x="43" y="128.9" font-size="6.2" textLength="7" lengthAdjust="spacingAndGlyphs">&#8722;4</text>
<text x="34" y="237.9" font-size="8.6" textLength="8.4" lengthAdjust="spacingAndGlyphs">10</text>
<text x="43" y="233.9" font-size="6.2" textLength="7" lengthAdjust="spacingAndGlyphs">&#8722;5</text>
<text x="34" y="342.9" font-size="8.6" textLength="8.4" lengthAdjust="spacingAndGlyphs">10</text>
<text x="43" y="338.9" font-size="6.2" textLength="7" lengthAdjust="spacingAndGlyphs">&#8722;6</text>
<text x="34" y="444.9" font-size="8.6" textLength="8.4" lengthAdjust="spacingAndGlyphs">10</text>
<text x="43" y="440.9" font-size="6.2" textLength="7" lengthAdjust="spacingAndGlyphs">&#8722;7</text>
<text transform="translate(26.1,289.8) rotate(-90)" font-size="8.3" textLength="20.9" lengthAdjust="spacingAndGlyphs">GOES</text>
<text transform="translate(26.1,265.3) rotate(-90)" font-size="8.3" textLength="39.8" lengthAdjust="spacingAndGlyphs">Irradiance</text>
<line x1="27.6" y1="221.2" x2="19.4" y2="216" stroke="#000" stroke-width="1" shape-rendering="auto"/>
<text transform="translate(26.3,211.4) rotate(-90)" font-size="9.6" textLength="3.6" lengthAdjust="spacingAndGlyphs">(</text>
<text transform="translate(26.1,207.2) rotate(-90)" font-size="8.3" textLength="5.6" lengthAdjust="spacingAndGlyphs">W</text>
<text transform="translate(26.1,198.2) rotate(-90)" font-size="8.3" textLength="7.2" lengthAdjust="spacingAndGlyphs">m</text>
<text transform="translate(22.2,191) rotate(-90)" font-size="6" textLength="7" lengthAdjust="spacingAndGlyphs">&#8722;2</text>
<text transform="translate(26.3,183.4) rotate(-90)" font-size="9.6" textLength="3.4" lengthAdjust="spacingAndGlyphs">)</text></g>
</svg>
</body></html>
